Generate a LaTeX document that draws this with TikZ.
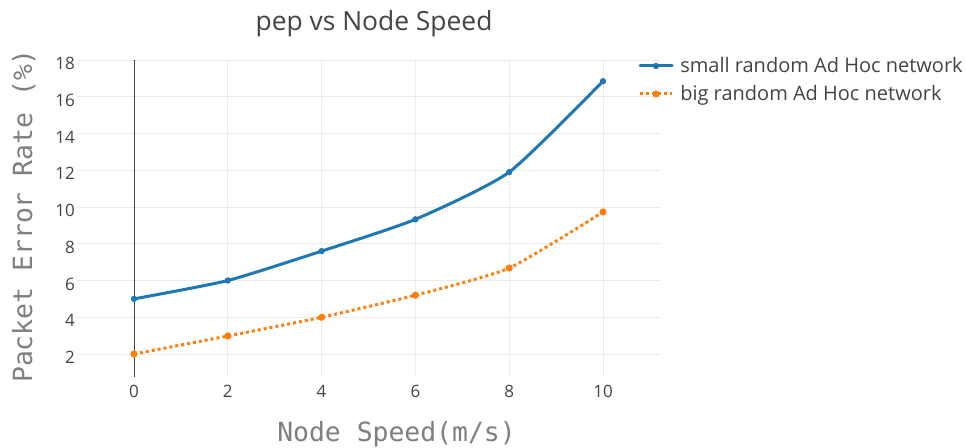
\documentclass[tikz,border=0pt]{standalone}
\usepackage{fontspec}
\setmainfont{Open Sans}
\newfontfamily\monofont{DejaVu Sans Mono}
\definecolor{plblue}{HTML}{1F77B4}
\definecolor{plorange}{HTML}{FF7F0E}
\definecolor{txtc}{HTML}{444444}
\definecolor{axtc}{HTML}{7F7F7F}
\definecolor{gridc}{HTML}{EBEBEB}
\begin{document}
\begin{tikzpicture}[x=0.75pt,y=-0.75pt,
  gridline/.style={draw=gridc, line width=0.75pt},
  zeroline/.style={draw=txtc, line width=0.75pt},
  ticklbl/.style={text=txtc, font=\fontsize{12.75}{14}\selectfont, inner sep=0pt},
  axtitle/.style={text=axtc, font=\monofont\fontsize{19.8}{22}\selectfont, inner sep=0pt},
  plottitle/.style={text=txtc, font=\fontsize{19.8}{22}\selectfont, inner sep=0pt},
  legtext/.style={text=txtc, font=\fontsize{15}{17}\selectfont, inner sep=0pt, anchor=base west},
  smallline/.style={draw=plblue, line width=2.25pt, line join=round, line cap=round},
  bigline/.style={draw=plorange, line width=2.25pt, dash pattern=on 2.25pt off 2.25pt},
  smalldot/.style={fill=plblue, draw=none, circle, minimum size=4.8pt, inner sep=0pt},
  bigdot/.style={fill=plorange, draw=none, circle, minimum size=5.4pt, inner sep=0pt}]
\useasboundingbox[fill=white] (0,0) rectangle (966,448);
% title
\node[plottitle, anchor=base] (title) at (374,31) {pep vs Node Speed};
% data scope
\begin{scope}[shift={(134,390.75)}, x=35.175pt, y=13.78pt]
  \foreach \v in {2,4,...,18} {
    \draw[gridline] (-1.215,\v) -- (11.215,\v);
  }
  \foreach \u in {2,4,...,10} {
    \draw[gridline] (\u,0.748) -- (\u,18);
  }
  \draw[zeroline] (0,0.748) -- (0,18);
  \coordinate (s0) at (0,5);
  \coordinate (s1) at (2,6);
  \coordinate (s2) at (4,7.6);
  \coordinate (s3) at (6,9.33);
  \coordinate (s4) at (8,11.9);
  \coordinate (s5) at (10,16.85);
  \coordinate (b0) at (0,2);
  \coordinate (b1) at (2,2.98);
  \coordinate (b2) at (4,4.0);
  \coordinate (b3) at (6,5.2);
  \coordinate (b4) at (8,6.68);
  \coordinate (b5) at (10,9.73);
  \draw[bigline] plot[smooth, tension=0.35] coordinates {(b0) (b1) (b2) (b3) (b4) (b5)};
  \draw[smallline] plot[smooth, tension=0.35] coordinates {(s0) (s1) (s2) (s3) (s4) (s5)};
  \foreach \i in {0,...,5} {
    \node[bigdot] (bd\i) at (b\i) {};
    \node[smalldot] (sd\i) at (s\i) {};
  }
\end{scope}
% y tick labels
\foreach \v in {2,4,...,18} {
  \pgfmathsetmacro{\py}{354-18.375*(\v-2)+3.5}
  \node[ticklbl, anchor=east] (yt\v) at (75,\py) {\v};
}
% x tick labels
\foreach \u in {0,2,...,10} {
  \pgfmathsetmacro{\px}{134+46.9*\u}
  \node[ticklbl, anchor=center] (xt\u) at (\px,391.5) {\u};
}
% axis titles
\node[axtitle, anchor=base] (xtitle) at (396.5,441.5) {Node Speed(m/s)};
\node[axtitle, anchor=base, rotate=90] (ytitle) at (32,216) {Packet Error Rate (\%)};
% legend
\coordinate (l1a) at (640,66);
\coordinate (l1b) at (672,66);
\coordinate (l2a) at (640,94);
\coordinate (l2b) at (672,94);
\draw[smallline] (l1a) -- (l1b);
\node[smalldot] (ld1) at (656,66) {};
\draw[bigline] (l2a) -- (l2b);
\node[bigdot] (ld2) at (656,94) {};
\node[legtext] (lt1) at (680,73) {small random Ad Hoc network};
\node[legtext] (lt2) at (680,101) {big random Ad Hoc network};
\end{tikzpicture}
\end{document}
